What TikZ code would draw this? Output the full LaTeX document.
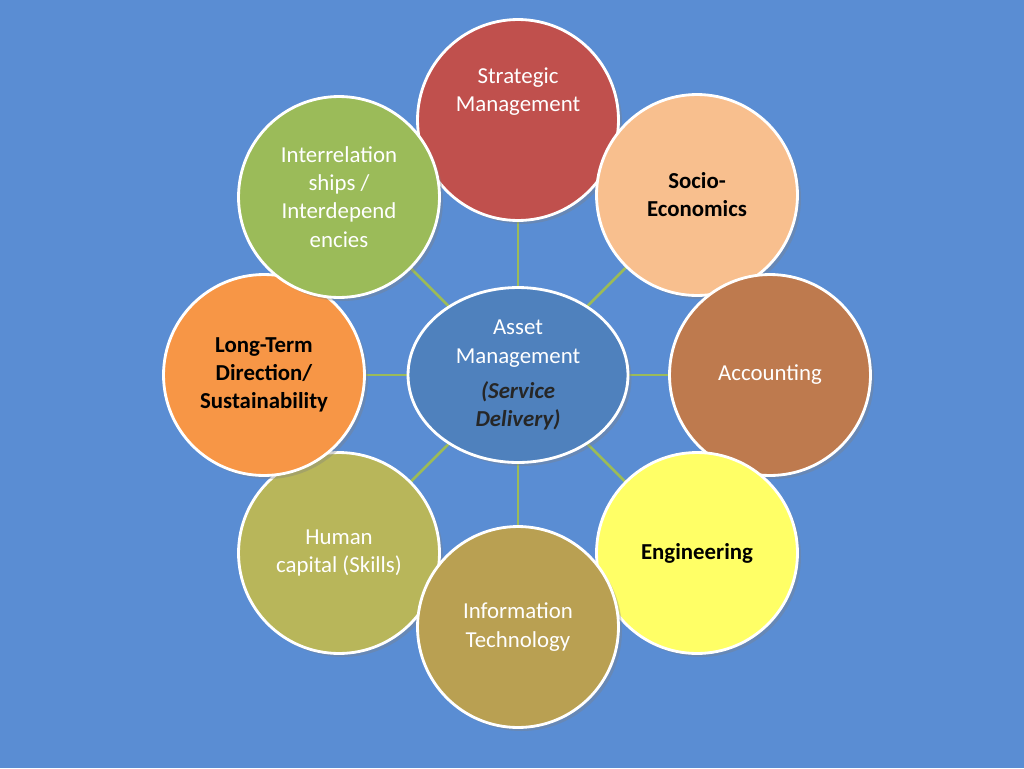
\documentclass[tikz,border=0pt]{standalone}
\usepackage{fontspec}
\setmainfont{Carlito}
\usetikzlibrary{shadows, shapes.geometric}
\definecolor{bgblue}{HTML}{5A8DD3}
\definecolor{linkgreen}{HTML}{9BBB59}
\definecolor{cStrat}{HTML}{C0504D}
\definecolor{cSocio}{HTML}{F8BF8E}
\definecolor{cAcc}{HTML}{BE7A4E}
\definecolor{cEng}{HTML}{FFFF66}
\definecolor{cIT}{HTML}{B9A052}
\definecolor{cHum}{HTML}{B8B65A}
\definecolor{cLong}{HTML}{F79646}
\definecolor{cInter}{HTML}{9BBB59}
\definecolor{cCenter}{HTML}{4F81BD}

\begin{document}
\begin{tikzpicture}[
  x=0.02cm, y=-0.02cm,
  topic/.style = {circle, draw=white, line width=1.6pt, minimum size=4.02cm,
                  align=center, text=white, font=\fontsize{13}{16}\selectfont,
                  drop shadow={opacity=0.35, shadow xshift=2pt, shadow yshift=-2pt}},
  keytopic/.style = {topic, text=black, font=\fontsize{13}{16}\selectfont\bfseries},
  link/.style = {linkgreen, line width=1.5pt}
]
  \fill[bgblue] (0,0) rectangle (1024,768);
  \useasboundingbox (0,0) rectangle (1024,768);

  % hub
  \coordinate (hubc) at (518,375);

  % links
  \foreach \p in {(518,120),(697,197),(770,375),(697,553),(518,627),(339,553),(264,375),(339,197)}
    \draw[link] (hubc) -- \p;

  % topics
  \node[topic, fill=cStrat] (strat) at (518,120) {Strategic\\Management\\[1.4em]};
  \node[keytopic, fill=cSocio] (socio) at (697,195) {Socio-\\Economics};
  \node[topic, fill=cAcc] (acc) at (770,375) {Accounting};
  \node[keytopic, fill=cEng] (eng) at (697,553) {Engineering};
  \node[topic, fill=cHum] (hum) at (339,553) {Human\\capital (Skills)};
  \node[topic, fill=cIT] (it) at (518,627) {Information\\Technology};
  \node[keytopic, fill=cLong] (long) at (264,375) {Long-Term\\Direction/\\Sustainability};
  \node[topic, fill=cInter] (inter) at (339,197) {Interrelation\\ships /\\Interdepend\\encies};

  % hub node
  \node[topic, ellipse, fill=cCenter, minimum width=4.4cm, minimum height=3.5cm] (hub) at (hubc)
    {Asset\\Management\\[0.3em]\textit{\textbf{\color{black!85}(Service}}\\\textit{\textbf{\color{black!85}Delivery)}}};
\end{tikzpicture}
\end{document}
